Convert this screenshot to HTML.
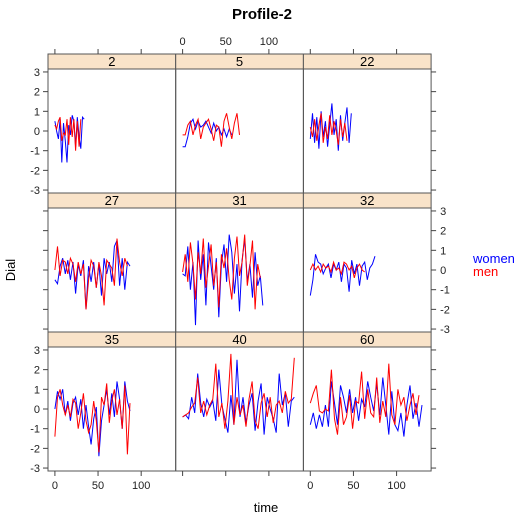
<!DOCTYPE html>
<html><head><meta charset="utf-8"><style>
body{margin:0;background:#fff}
svg{display:block;font-family:"Liberation Sans",sans-serif}
</style></head><body>
<svg id="chart" width="525" height="525" viewBox="0 0 525 525">
<text x="262" y="19" text-anchor="middle" font-size="15" font-weight="bold">Profile-2</text>
<text x="266" y="512" text-anchor="middle" font-size="13">time</text>
<text transform="translate(15,270) rotate(-90)" text-anchor="middle" font-size="13">Dial</text>
<text x="473" y="263" font-size="13" fill="#0000ff">women</text>
<text x="473" y="276" font-size="13" fill="#ff0000">men</text>
<g id="panels"></g>
</svg>
<script>
const panelLabels=["2","5","22","27","31","32","35","40","60"];
const timeSteps=[2,3,2.5,3,3,3,3,3.5,3.5];
const womenValues=[
[0.5,0,-0.4,0.6,-1.6,0.4,-0.5,-1.6,0.3,-0.2,0.8,0.5,-0.8,0.7,-0.3,-0.9,0.7,0.6],
[-0.8,-0.8,-0.3,0.4,0.6,0.1,0.5,0.2,0.3,0.5,0.2,-0.1,0.4,0.0,0.2,-0.2,0.1,-0.3,0.1,-0.2],
[-0.4,0.9,-0.6,0.7,-0.9,1.0,-0.3,0.5,-0.8,0.3,1.4,-0.2,0.6,-1.0,0.8,-0.5,0.4,1.2,-0.6,0.9],
[-0.5,-0.7,0.2,0.6,-0.2,0.5,-0.5,0.4,-1.2,0.3,-0.3,0.5,-2.0,0.2,-0.6,0.4,-0.9,0.3,-1.3,0.6,-0.2,0.4,-0.6,1.2,1.5,-0.8,0.6,-1.0,0.4,0.2],
[-0.2,-0.3,1.2,-1.0,0.4,-2.8,1.5,-0.5,0.8,-1.8,1.4,0.2,-1.0,0.6,-2.4,0.3,1.3,-0.6,1.8,0.9,-1.2,0.3,-2.1,0.5,1.6,-0.6,0.3,-1.4,0.9,-0.8,-0.3,-1.8],
[-1.3,-0.5,0.8,0.4,0.3,-0.2,0.1,0.3,-0.4,0.3,0.0,0.4,-0.6,0.3,0.1,-1.1,0.5,-0.2,0.3,-0.8,0.2,0.4,-0.5,0.1,0.3,0.7],
[0.0,0.9,0.5,1.0,-0.3,0.4,-0.6,0.3,0.6,-0.3,0.5,-1.0,0.2,-0.9,-1.8,-0.5,0.1,-2.4,-0.6,0.2,1.0,-0.3,0.8,-0.4,1.4,0.5,-1.0,1.4,0.4,-0.1],
[-0.4,-0.3,-0.5,0.6,-0.2,1.8,0.3,-0.4,0.5,0.1,0.4,-0.6,2.0,0.2,-0.5,-1.2,0.7,-0.8,2.5,-0.4,0.6,-0.7,0.2,0.8,-1.1,0.4,1.3,-1.3,0.6,0.0,-0.5,-1.2,1.8,0.2,0.8,-0.9,0.4,0.6],
[-0.8,-0.2,-1.0,-0.3,-0.9,0.2,-0.9,1.4,0.3,-0.8,1.2,0.6,-0.2,1.0,-0.2,0.6,-0.6,0.5,0.1,1.4,0.6,-0.1,1.3,-0.3,1.6,0.2,-1.3,0.9,-0.8,-1.1,-0.2,-1.4,0.2,1.2,-0.5,0.3,-0.9,0.2]
];
const menValues=[
[0.3,0.1,0.5,0.7,-0.5,-0.1,-0.2,0.6,-0.7,0.7,-0.3,0.6,-1.0,0.5,-0.8,0.6],
[-0.2,-0.2,0.3,0.5,-0.2,0.3,0.6,-0.4,0.2,0.4,0.6,0.1,-0.5,0.3,0.2,-0.8,0.5,0.9,0.2,-0.4,0.4,0.9,-0.2],
[0.2,-0.3,0.6,-0.5,0.3,0.9,-0.6,0.2,-0.4,0.8,-0.2,0.5,0.0,-0.7,0.6,-0.3,0.4,-0.5],
[0.0,1.2,-0.3,0.5,0.4,-0.2,0.6,0.3,-0.6,0.4,-0.2,0.3,-2.0,-0.5,0.5,0.2,-0.9,0.4,-0.3,-1.8,0.5,0.3,0.1,-0.8,1.6,0.4,-0.3,0.6,0.2],
[-0.1,0.8,-0.6,1.4,0.3,-1.5,0.9,-0.2,1.6,-0.9,0.2,1.3,-0.8,0.4,-1.9,0.8,0.1,1.1,-0.5,-1.5,0.6,1.7,-0.3,0.4,1.8,-0.8,0.2,1.5,-2.0,0.3,-0.4],
[0.0,0.3,0.0,0.2,-0.1,0.3,0.1,0.2,-0.1,0.4,0.0,0.1,-0.2,0.4,0.3,0.0,0.2,-0.4,0.1,0.3,0.0,-0.1],
[-1.4,0.6,1.0,0.2,-0.3,0.2,-0.4,0.5,0.3,-1.0,-0.2,0.8,-0.6,-1.2,-0.8,0.4,-0.6,-2.2,0.6,0.2,1.3,-0.7,0.4,1.0,-0.3,0.5,-1.0,1.2,-2.3,0.3],
[-0.4,-0.3,-0.2,0.1,0.3,1.6,-0.2,0.4,-0.3,0.2,0.5,2.3,-0.4,0.3,-1.0,0.4,2.8,-0.8,0.6,-0.3,0.2,-0.9,0.5,1.4,-0.6,-1.0,0.3,0.8,-0.4,0.6,-0.7,0.2,0.4,-0.2,0.9,0.3,0.5,2.6],
[0.3,0.8,1.2,-0.1,-0.2,0.0,-0.1,2.0,-0.5,-1.3,0.6,-0.8,-0.4,0.7,-1.0,0.4,0.3,1.9,-0.5,1.0,-0.2,-0.4,1.6,-0.7,0.4,-0.4,2.3,-0.3,-0.8,1.0,0.2,0.6,-0.6,0.2,0.8,-0.3,0.7]
];
const xTicks=[0,50,100];
const yTicks=[-3,-2,-1,0,1,2,3];
const NS="http://www.w3.org/2000/svg";
const g=document.getElementById('panels');
const L=48,T=54,PW=127.7,PH=139,SH=15;
const xmin=-8,xmax=140,ymin=-3.15,ymax=3.15;
function mk(tag,attrs){const e=document.createElementNS(NS,tag);for(const k in attrs)e.setAttribute(k,attrs[k]);return e;}
function sx(c,v){return L+c*PW+(v-xmin)/(xmax-xmin)*PW;}
function sy(r,v){const top=T+r*PH+SH;return top+(ymax-v)/(ymax-ymin)*(PH-SH);}
for(let i=0;i<9;i++){
  const r=Math.floor(i/3),c=i%3;
  const x0=L+c*PW,y0=T+r*PH;
  const strip=mk('rect',{x:x0,y:y0,width:PW,height:SH,fill:'#f9e3c9',stroke:'#555','stroke-width':1});
  
  
  g.appendChild(strip);
  const st=mk('text',{x:x0+PW/2,y:y0+12,'text-anchor':'middle','font-size':13});
  st.textContent=panelLabels[i];
  
  
  g.appendChild(st);
  const box=mk('rect',{x:x0,y:y0+SH,width:PW,height:PH-SH,fill:'none',stroke:'#555','stroke-width':1});
  
  
  g.appendChild(box);
  [[womenValues[i],'#0000ff','women'],[menValues[i],'#ff0000','men']].forEach(([vals,col,nm])=>{
    const pts=vals.map((v,k)=>sx(c,k*timeSteps[i]).toFixed(1)+','+sy(r,v).toFixed(1)).join(' ');
    const pl=mk('polyline',{points:pts,fill:'none',stroke:col,'stroke-width':1});
    
    
    g.appendChild(pl);
  });
}
function tick(x1,y1,x2,y2){g.appendChild(mk('line',{x1,y1,x2,y2,stroke:'#444','stroke-width':1}));}
function lab(x,y,t,anchor,name){const e=mk('text',{x,y,'text-anchor':anchor,'font-size':11,fill:'#222'});e.textContent=t;g.appendChild(e);}
for(let c=0;c<3;c++){
  xTicks.forEach(v=>{
    const x=sx(c,v);
    tick(x,T,x,T-5);
    tick(x,T+3*PH,x,T+3*PH+5);
    if(c===1)lab(x,T-9,String(v),'middle','top-x-tick-label');
    else lab(x,T+3*PH+18,String(v),'middle','bottom-x-tick-label');
  });
}
for(let r=0;r<3;r++){
  yTicks.forEach(v=>{
    const y=sy(r,v);
    tick(L,y,L-5,y);
    tick(L+3*PW,y,L+3*PW+5,y);
    if(r===1)lab(L+3*PW+9,y+4,String(v),'start','right-y-tick-label');
    else lab(L-8,y+4,String(v),'end','left-y-tick-label');
  });
}
</script>
</body></html>
